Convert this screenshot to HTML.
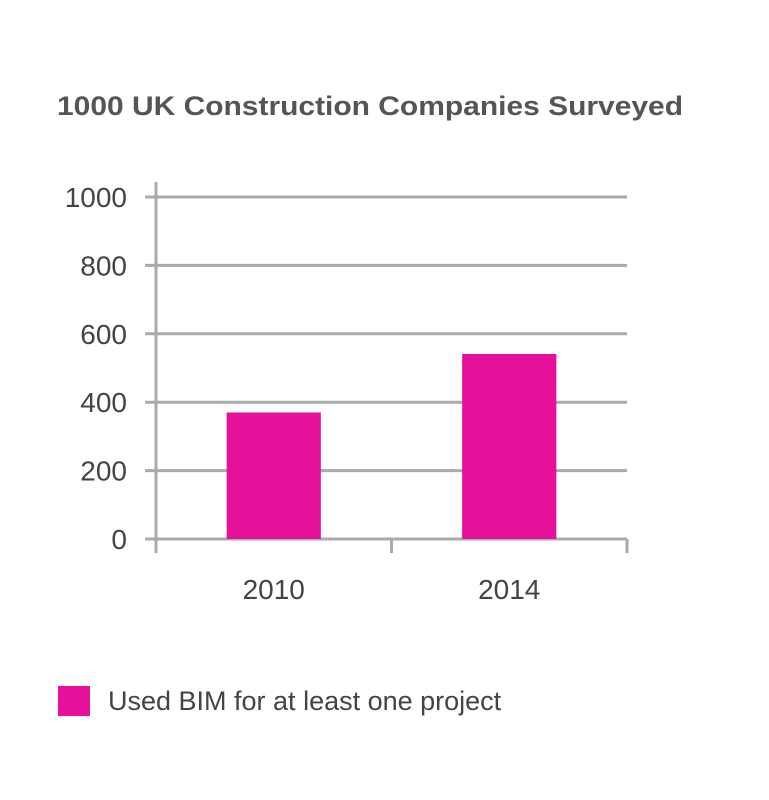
<!DOCTYPE html>
<html><head><meta charset="utf-8"><style>
body{margin:0;background:#fff;}
svg{display:block;font-family:"Liberation Sans",sans-serif;}
</style></head><body>
<svg width="769" height="800" viewBox="0 0 769 800">
<text x="57" y="115" font-size="27" font-weight="bold" fill="#555" textLength="626" lengthAdjust="spacingAndGlyphs">1000 UK Construction Companies Surveyed</text>
<g id="grid"></g>
<g id="bars"></g>
<g id="axes"></g>
<rect x="58" y="686" width="32" height="30" fill="#e6119a"/>
<text x="108" y="710" font-size="27" fill="#444">Used BIM for at least one project</text>
</svg>
<script>
const categories=["2010","2014"];
const values=[370,541];
const yTicks=[0,200,400,600,800,1000];
const NS="http://www.w3.org/2000/svg";
const x0=156,x1=627,y0=539,y1=197,yMax=1000;
function y(v){return y0-(v/yMax)*(y0-y1);}
const band=(x1-x0)/categories.length;
function bx(i){return x0+band*i+band*0.3;}
function mk(tag,attrs,parent){const e=document.createElementNS(NS,tag);for(const k in attrs)e.setAttribute(k,attrs[k]);document.getElementById(parent).appendChild(e);return e;}
yTicks.forEach(t=>{
  const l=mk("line",{x1:145,x2:x1,y1:y(t),y2:y(t),stroke:"#aaa","stroke-width":3},"grid");
  
  
  const tx=mk("text",{x:127,y:y(t)+10,"font-size":28,fill:"#444","text-anchor":"end"},"grid");
  tx.textContent=t;
  
  
});
categories.forEach((c,i)=>{
  const r=mk("rect",{x:bx(i),y:y(values[i]),width:band*0.4,height:y0-y(values[i]),fill:"#e6119a"},"bars");
  
  
  const tx=mk("text",{x:x0+band*(i+0.5),y:599,"font-size":28,fill:"#444","text-anchor":"middle"},"axes");
  tx.textContent=c;
  
  
});
const ya=mk("line",{x1:x0,x2:x0,y1:182,y2:553,stroke:"#aaa","stroke-width":3},"axes");


for(let i=1;i<=categories.length;i++){
  const t=mk("line",{x1:x0+band*i,x2:x0+band*i,y1:y0,y2:553,stroke:"#aaa","stroke-width":3},"axes");
  
  
}
</script>
</body></html>
